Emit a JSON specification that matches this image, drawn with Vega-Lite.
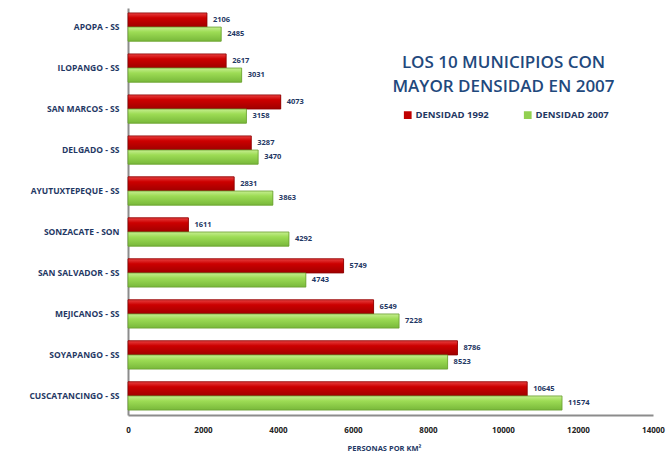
{
  "$schema": "https://vega.github.io/schema/vega-lite/v6.json",
  "width": 525,
  "height": 407,
  "autosize": {"type": "none"},
  "padding": {"left": 128, "top": 8, "right": 16, "bottom": 39},
  "background": "white",
  "title": {
    "text": ["LOS 10 MUNICIPIOS CON", "MAYOR DENSIDAD EN 2007"],
    "font": "Open Sans",
    "fontSize": 17,
    "fontWeight": 600,
    "color": "#1f497d",
    "anchor": "middle",
    "orient": "top",
    "baseline": "top",
    "lineHeight": 24,
    "dx": 113,
    "dy": 88,
    "offset": 0
  },
  "data": {
    "values": [
      {"municipio": "APOPA - SS", "serie": "DENSIDAD 1992", "valor": 2106},
      {"municipio": "APOPA - SS", "serie": "DENSIDAD 2007", "valor": 2485},
      {"municipio": "ILOPANGO - SS", "serie": "DENSIDAD 1992", "valor": 2617},
      {"municipio": "ILOPANGO - SS", "serie": "DENSIDAD 2007", "valor": 3031},
      {"municipio": "SAN MARCOS - SS", "serie": "DENSIDAD 1992", "valor": 4073},
      {"municipio": "SAN MARCOS - SS", "serie": "DENSIDAD 2007", "valor": 3158},
      {"municipio": "DELGADO - SS", "serie": "DENSIDAD 1992", "valor": 3287},
      {"municipio": "DELGADO - SS", "serie": "DENSIDAD 2007", "valor": 3470},
      {"municipio": "AYUTUXTEPEQUE - SS", "serie": "DENSIDAD 1992", "valor": 2831},
      {"municipio": "AYUTUXTEPEQUE - SS", "serie": "DENSIDAD 2007", "valor": 3863},
      {"municipio": "SONZACATE - SON", "serie": "DENSIDAD 1992", "valor": 1611},
      {"municipio": "SONZACATE - SON", "serie": "DENSIDAD 2007", "valor": 4292},
      {"municipio": "SAN SALVADOR - SS", "serie": "DENSIDAD 1992", "valor": 5749},
      {"municipio": "SAN SALVADOR - SS", "serie": "DENSIDAD 2007", "valor": 4743},
      {"municipio": "MEJICANOS - SS", "serie": "DENSIDAD 1992", "valor": 6549},
      {"municipio": "MEJICANOS - SS", "serie": "DENSIDAD 2007", "valor": 7228},
      {"municipio": "SOYAPANGO - SS", "serie": "DENSIDAD 1992", "valor": 8786},
      {"municipio": "SOYAPANGO - SS", "serie": "DENSIDAD 2007", "valor": 8523},
      {"municipio": "CUSCATANCINGO - SS", "serie": "DENSIDAD 1992", "valor": 10645},
      {"municipio": "CUSCATANCINGO - SS", "serie": "DENSIDAD 2007", "valor": 11574}
    ]
  },
  "encoding": {
    "y": {
      "field": "municipio",
      "type": "nominal",
      "sort": null,
      "scale": {"paddingInner": 0.31, "paddingOuter": 0.12},
      "axis": {
        "title": null,
        "ticks": false,
        "domainColor": "#8c8c8c",
        "domainWidth": 2,
        "labelFont": "Open Sans",
        "labelFontSize": 8.5,
        "labelFontWeight": "bold",
        "labelColor": "#1f3864",
        "labelPadding": 9
      }
    },
    "yOffset": {"field": "serie", "type": "nominal", "scale": {"paddingInner": 0, "paddingOuter": 0}},
    "x": {
      "field": "valor",
      "type": "quantitative",
      "scale": {"domain": [0, 14000], "nice": false},
      "axis": {
        "values": [0, 2000, 4000, 6000, 8000, 10000, 12000, 14000],
        "format": "d",
        "grid": false,
        "ticks": false,
        "domainColor": "#8c8c8c",
        "domainWidth": 2,
        "labelFont": "Open Sans",
        "labelFontSize": 8,
        "labelFontWeight": "bold",
        "labelColor": "#222222",
        "labelPadding": 11,
        "labelFlush": false,
        "title": "PERSONAS POR KM²",
        "titleFont": "Open Sans",
        "titleFontSize": 7.5,
        "titleFontWeight": "bold",
        "titleColor": "#1f3864",
        "titleY": 29,
        "titleX": 256
      }
    }
  },
  "layer": [
    {
      "mark": {"type": "bar"},
      "encoding": {
        "color": {
          "field": "serie",
          "type": "nominal",
          "scale": {"domain": ["DENSIDAD 1992", "DENSIDAD 2007"], "range": ["#c00000", "#92d050"]},
          "legend": {
            "title": null,
            "orient": "none",
            "direction": "horizontal",
            "legendX": 275,
            "legendY": 102,
            "symbolType": "square",
            "symbolSize": 60,
            "symbolStrokeWidth": 0,
            "columnPadding": 34,
            "labelFont": "Open Sans",
            "labelFontSize": 9.5,
            "labelFontWeight": "bold",
            "labelColor": "#1f3864",
            "labelOffset": 3
          }
        }
      }
    },
    {
      "mark": {"type": "bar", "strokeWidth": 0.8},
      "encoding": {
        "fill": {
          "condition": {
            "test": "datum.serie === 'DENSIDAD 1992'",
            "value": {"gradient": "linear", "x1": 0, "y1": 0, "x2": 0, "y2": 1, "stops": [{"offset": 0, "color": "#e84040"}, {"offset": 0.35, "color": "#cc0000"}, {"offset": 1, "color": "#a00000"}]}
          },
          "value": {"gradient": "linear", "x1": 0, "y1": 0, "x2": 0, "y2": 1, "stops": [{"offset": 0, "color": "#c6ee90"}, {"offset": 0.35, "color": "#9ddc55"}, {"offset": 1, "color": "#78b83a"}]}
        },
        "stroke": {
          "condition": {"test": "datum.serie === 'DENSIDAD 1992'", "value": "#8a0000"},
          "value": "#6a9e30"
        }
      }
    },
    {
      "mark": {"type": "text", "align": "left", "baseline": "middle", "dx": 6, "font": "Open Sans", "fontSize": 7.5, "fontWeight": "bold", "color": "#1f3864"},
      "encoding": {"text": {"field": "valor", "type": "quantitative", "format": "d"}}
    }
  ],
  "config": {"view": {"stroke": null}}
}
